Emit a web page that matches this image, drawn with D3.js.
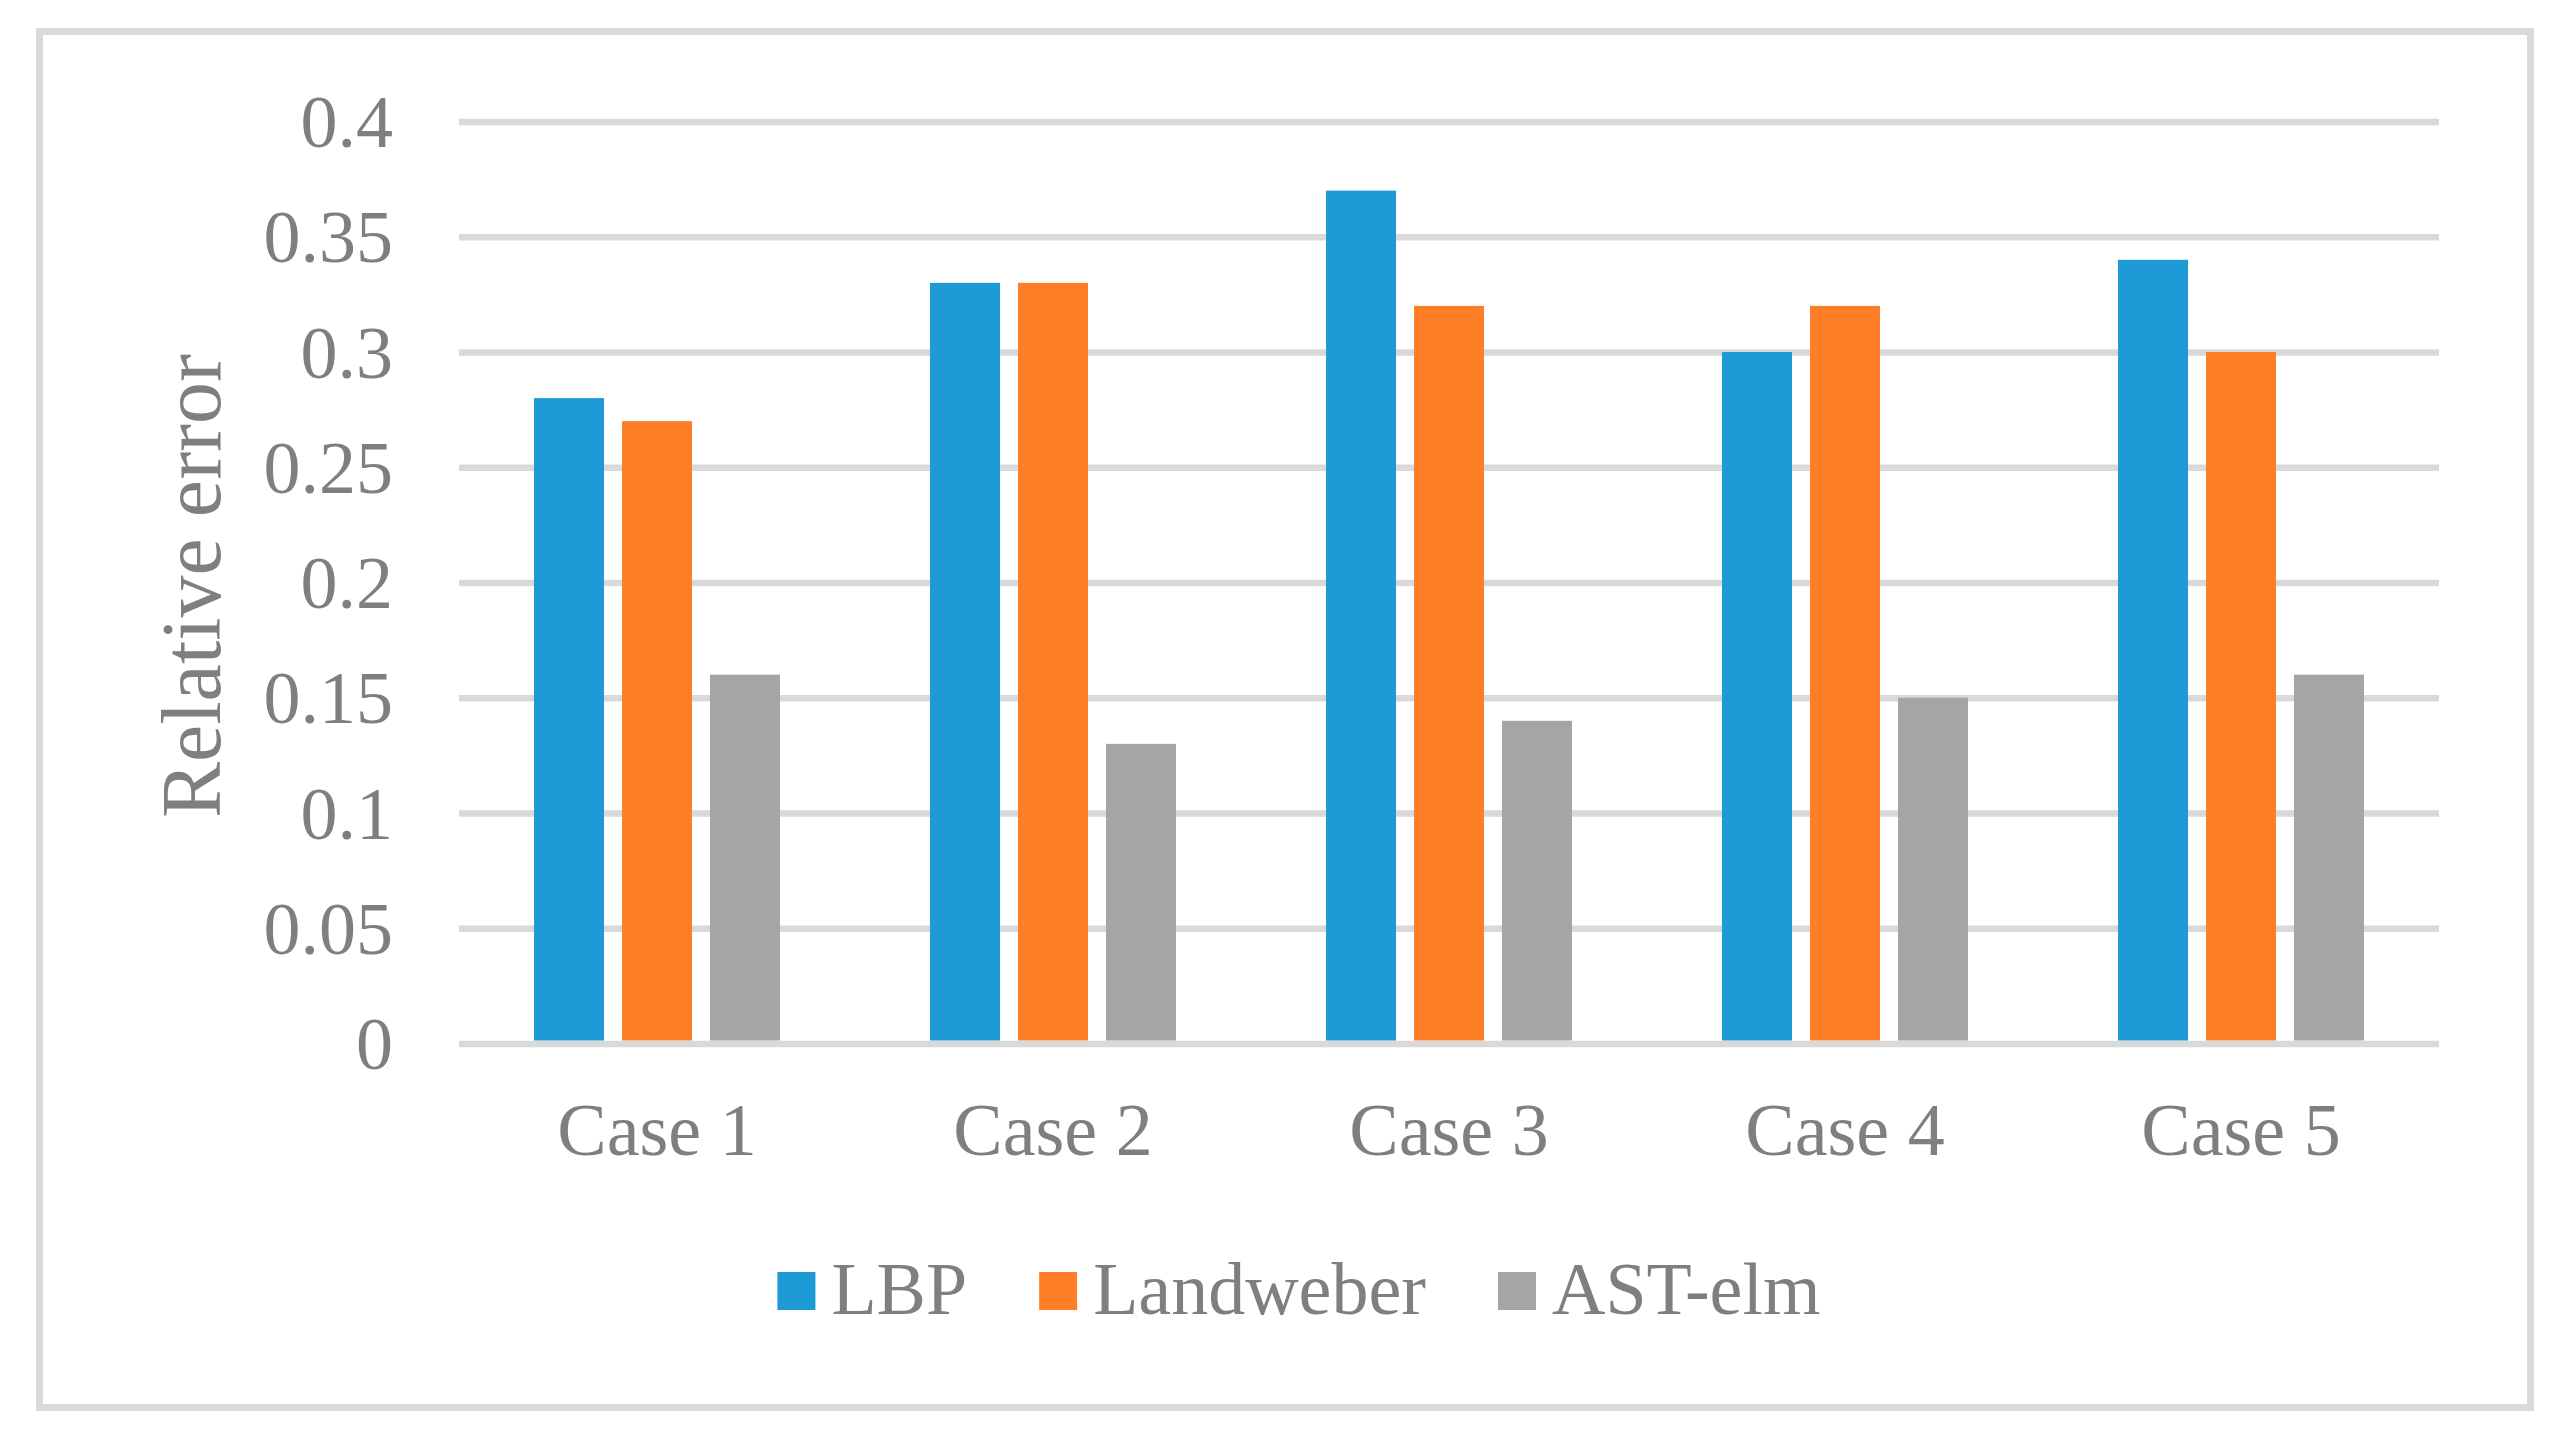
<!DOCTYPE html>
<html>
<head>
<meta charset="utf-8">
<script src="https://cdn.jsdelivr.net/npm/d3@7/dist/d3.min.js"></script>
<style>
  html, body { margin: 0; padding: 0; background: #ffffff; }
  svg { display: block; }
  text { font-family: "Times New Roman", "Liberation Serif", serif; fill: #7f7f7f; }
</style>
</head>
<body>
<svg id="chart" width="2566" height="1440"></svg>
<script>
const categories = ["Case 1", "Case 2", "Case 3", "Case 4", "Case 5"];
const seriesNames = ["LBP", "Landweber", "AST-elm"];
const lbpValues = [0.28, 0.33, 0.37, 0.30, 0.34];
const landweberValues = [0.27, 0.33, 0.32, 0.32, 0.30];
const astElmValues = [0.16, 0.13, 0.14, 0.15, 0.16];
const yTicks = [0, 0.05, 0.1, 0.15, 0.2, 0.25, 0.3, 0.35, 0.4];
const yTickLabels = ["0", "0.05", "0.1", "0.15", "0.2", "0.25", "0.3", "0.35", "0.4"];
const yTitle = "Relative error";
const seriesColors = ["#1e9bd7", "#fe7f27", "#a5a5a5"];

const seriesValues = [lbpValues, landweberValues, astElmValues];

const svg = d3.select("#chart");

// Outer chart border
svg.append("rect")
  .attr("x", 39.5).attr("y", 31.5)
  .attr("width", 2491).attr("height", 1376)
  .attr("fill", "#ffffff")
  .attr("stroke", "#d9d9d9")
  .attr("stroke-width", 7);

const plotLeft = 459, plotRight = 2439, plotTop = 121.5, plotBottom = 1043.5;

const y = d3.scaleLinear().domain([0, 0.4]).range([plotBottom, plotTop]);
const x0 = d3.scaleBand().domain(categories).range([plotLeft, plotRight]).padding(0);
const groupWidth = x0.bandwidth() * 0.6212;
const x1 = d3.scaleBand().domain(seriesNames).range([0, groupWidth]).paddingInner(0.2045).paddingOuter(0);

// Gridlines
const grid = svg.append("g")
  .attr("transform", `translate(${plotLeft},0)`)
  .call(d3.axisLeft(y).tickValues(yTicks).tickSize(-(plotRight - plotLeft)).tickFormat(""));
grid.select(".domain").remove();
grid.selectAll(".tick line").attr("stroke", "#d9d9d9").attr("stroke-width", 6.5);

// Y tick labels
const yAxis = svg.append("g")
  .attr("transform", `translate(393,0)`)
  .call(d3.axisLeft(y).tickValues(yTicks).tickSize(0).tickPadding(0)
    .tickFormat((d, i) => yTickLabels[i]));
yAxis.select(".domain").remove();
yAxis.selectAll(".tick text")
  .attr("x", 0)
  .attr("dy", "0.34em")
  .attr("text-anchor", "end")
  .style("font-size", "74px")
  .style("font-family", '"Times New Roman", "Liberation Serif", serif')
  .attr("fill", "#7f7f7f");

// Bars
const groups = svg.append("g").selectAll("g")
  .data(categories)
  .join("g")
  .attr("transform", d => `translate(${x0(d) + (x0.bandwidth() - groupWidth) / 2},0)`);

groups.selectAll("rect")
  .data((d, ci) => seriesNames.map((s, si) => ({ s, si, v: seriesValues[si][ci] })))
  .join("rect")
  .attr("x", d => x1(d.s))
  .attr("width", x1.bandwidth())
  .attr("y", d => y(d.v))
  .attr("height", d => y(0) - y(d.v) - 3)
  .attr("fill", d => seriesColors[d.si]);

// X axis labels
const xAxis = svg.append("g")
  .attr("transform", `translate(0,${plotBottom})`)
  .call(d3.axisBottom(x0).tickSize(0).tickPadding(0));
xAxis.select(".domain").remove();
xAxis.selectAll(".tick text")
  .attr("y", 111.5)
  .attr("dy", 0)
  .attr("text-anchor", "middle")
  .style("font-size", "74px")
  .style("font-family", '"Times New Roman", "Liberation Serif", serif')
  .attr("fill", "#7f7f7f");

// Y axis title
svg.append("text")
  .attr("transform", "translate(220,586) rotate(-90)")
  .attr("text-anchor", "middle")
  .style("font-size", "84px")
  .text(yTitle);

// Legend
const legend = svg.append("g");
const sq = 38, gapText = 16, gapItem = 72;
const items = legend.selectAll("g").data(seriesNames).join("g");
items.append("rect")
  .attr("width", sq).attr("height", sq)
  .attr("y", 1272)
  .attr("fill", (d, i) => seriesColors[i]);
items.append("text")
  .attr("y", 1314)
  .style("font-size", "74px")
  .text(d => d);
let cx = 0;
const widths = [];
items.each(function () {
  const w = d3.select(this).select("text").node().getComputedTextLength();
  widths.push(w);
});
const total = widths.reduce((a, w) => a + sq + gapText + w, 0) + gapItem * (widths.length - 1);
let startX = 1299 - total / 2;
items.each(function (d, i) {
  const g = d3.select(this);
  g.select("rect").attr("x", startX);
  g.select("text").attr("x", startX + sq + gapText);
  startX += sq + gapText + widths[i] + gapItem;
});
</script>
</body>
</html>
